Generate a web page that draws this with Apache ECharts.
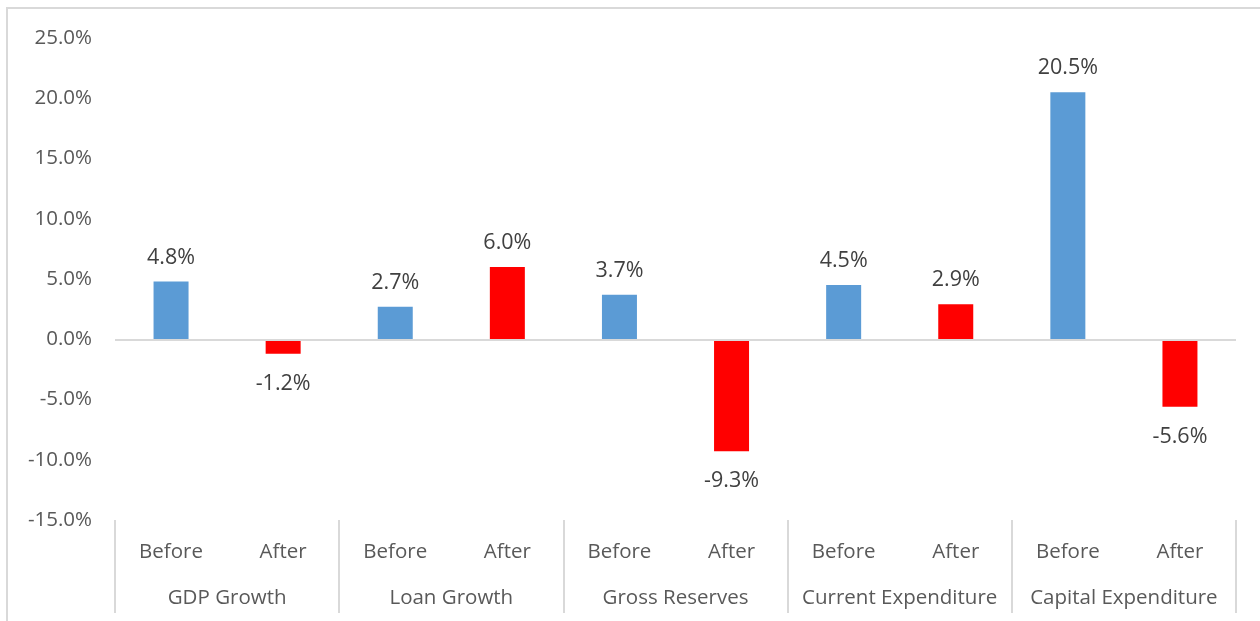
<!DOCTYPE html>
<html>
<head>
<meta charset="utf-8">
<script src="https://cdn.jsdelivr.net/npm/echarts@6/dist/echarts.min.js"></script>
<style>
  html, body { margin: 0; padding: 0; background: #fff; }
  #main { width: 1260px; height: 621px; }
</style>
</head>
<body>
<div id="main"></div>
<script>
var groups = ['GDP Growth', 'Loan Growth', 'Gross Reserves', 'Current Expenditure', 'Capital Expenditure']
var phases = ['Before', 'After']
var beforeValues = [4.8, 2.7, 3.7, 4.5, 20.5]
var afterValues = [-1.2, 6.0, -9.3, 2.9, -5.6]
var yTicks = [-15, -10, -5, 0, 5, 10, 15, 20, 25]

var blue = '#5B9BD5'
var red = '#FF0000'
var font = '"Open Sans", "Noto Sans", sans-serif'

// flatten groups into Before/After slots
var slots = []
var barData = []
for (var i = 0; i < groups.length; i++) {
  var vals = [beforeValues[i], afterValues[i]]
  for (var j = 0; j < phases.length; j++) {
    slots.push(phases[j])
    var v = vals[j]
    barData.push({
      value: v,
      itemStyle: { color: j === 0 ? blue : red },
      label: v < 0 ? { position: 'bottom', distance: 19 } : { position: 'top', distance: 13 }
    })
  }
}

var chart = echarts.init(document.getElementById('main'))
chart.setOption({
  animation: false,
  textStyle: { fontFamily: font },
  graphic: [{
    type: 'rect',
    shape: { x: 7, y: 8, width: 1400, height: 800 },
    style: { fill: 'none', stroke: '#d9d9d9', lineWidth: 2 },
    silent: true
  }],
  grid: { left: 115, right: 24, top: 38, bottom: 101 },
  xAxis: [{
    type: 'category',
    data: slots,
    position: 'bottom',
    axisLine: { show: false, onZero: false },
    axisTick: { show: false },
    axisLabel: { interval: 0, color: '#595959', fontSize: 20.5, margin: 22, fontFamily: font }
  }, {
    type: 'category',
    data: groups,
    position: 'bottom',
    axisLine: { show: false, onZero: false },
    axisTick: { show: true, interval: 0, length: 93, lineStyle: { color: '#d9d9d9', width: 2 } },
    axisLabel: { interval: 0, color: '#595959', fontSize: 20.5, margin: 68, fontFamily: font }
  }],
  yAxis: {
    type: 'value',
    min: yTicks[0],
    max: yTicks[yTicks.length - 1],
    interval: 5,
    axisLine: { show: false },
    axisTick: { show: false },
    splitLine: { show: false },
    axisLabel: {
      color: '#595959',
      fontSize: 20.5,
      margin: 23,
      fontFamily: font,
      formatter: function (v) { return v.toFixed(1) + '%' }
    }
  },
  series: [{
    type: 'bar',
    xAxisIndex: 0,
    data: barData,
    barWidth: 35,
    label: {
      show: true,
      color: '#404040',
      fontSize: 21.5,
      fontFamily: font,
      formatter: function (p) { return p.value.toFixed(1) + '%' }
    },
    markLine: {
      silent: true,
      symbol: 'none',
      label: { show: false },
      lineStyle: { color: '#d9d9d9', width: 2, type: 'solid' },
      data: [{ yAxis: 0 }]
    }
  }]
})
</script>
</body>
</html>
